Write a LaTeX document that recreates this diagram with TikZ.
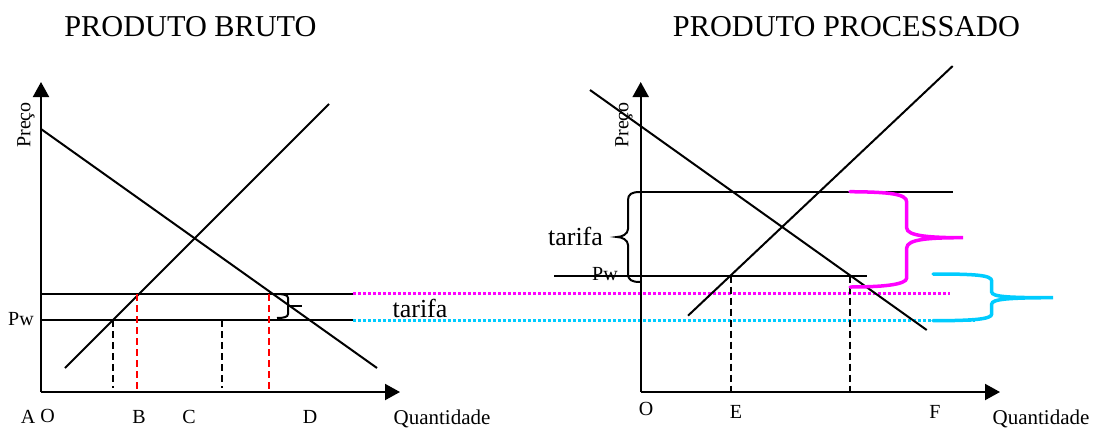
\documentclass[tikz,border=0pt]{standalone}
\usepackage{fontspec}
\setmainfont{Liberation Serif}
\usetikzlibrary{arrows.meta}
\definecolor{skyblue}{RGB}{0,204,255}
\definecolor{fuchsia}{RGB}{255,0,255}
\definecolor{dashred}{RGB}{255,0,0}

\begin{document}
\begin{tikzpicture}[x=1pt, y=-1pt, line width=2pt,
    axis/.style={-{Triangle[length=15pt 0,width=16pt 0]}},
    guide/.style={line width=2.4pt, dash pattern=on 7pt off 4pt},
    pdot/.style={line width=3pt, dash pattern=on 2.5pt off 2.5pt},
    curly/.style={line width=3.5pt, line cap=round},
    lbl/.style={inner sep=0pt, font=\fontsize{20}{24}\selectfont},
    title/.style={inner sep=0pt, font=\fontsize{30.3}{36}\selectfont}]
    \useasboundingbox (0,0) rectangle (1094,429);

    % titles
    \node[title] (tbruto) at (190.5,27) {PRODUTO BRUTO};
    \node[title] (tproc) at (846.5,27) {PRODUTO PROCESSADO};

    % dotted world prices running across both panels
    \draw[pdot, color=fuchsia] (353,293.5) -- (950,293.5);
    \draw[pdot, color=skyblue] (353,320) -- (975,320);

    % produto bruto
    \draw[axis] (41,392) -- (41,82);
    \draw[axis] (41,392) -- (400,392);
    \draw (41,129) -- (377,368);
    \draw (65,368) -- (329,104);
    \draw (41,294) -- (353,294);
    \draw (41,320) -- (353,320);
    \draw[guide] (112.7,320) -- (112.7,388);
    \draw[guide] (222,320) -- (222,388);
    \draw[guide, color=dashred] (136.7,294) -- (136.7,390);
    \draw[guide, color=dashred] (268.7,294) -- (268.7,390);
    \draw (276,294) .. controls (284,294) and (288,295) .. (288,298) -- (288,314)
          .. controls (288,317) and (284,318) .. (277,318);
    \draw (288,305.7) -- (302,305.7);
    \node[lbl, font=\fontsize{26}{30}\selectfont] (tarifaA) at (420,308) {tarifa};
    \node[lbl, rotate=90] (precoA) at (26,125) {Preço};
    \node[lbl] (pwA) at (21,319) {Pw};
    \node[lbl] (labA) at (28,416.5) {A};
    \node[lbl] (labO) at (47.5,416) {O};
    \node[lbl] (labB) at (139,417) {B};
    \node[lbl] (labC) at (189,417) {C};
    \node[lbl] (labD) at (310,417) {D};
    \node[lbl, font=\fontsize{21}{24}\selectfont] (quantA) at (442,419) {Quantidade};

    % produto processado
    \draw[axis] (640.7,392) -- (640.7,82);
    \draw[axis] (640.7,392) -- (1000,392);
    \draw (590,90) -- (926.7,330);
    \draw (688,315.7) -- (952.7,66);
    \draw (640.7,192) -- (952.7,192);
    \draw (554,275.7) -- (866.7,275.7);
    \draw[guide] (730.7,275.7) -- (730.7,392);
    \draw[guide] (850,275.7) -- (850,392);
    \draw (640,192) .. controls (632,192) and (628,194) .. (628,200) -- (628,229)
          .. controls (628,234) and (622,237) .. (617,237)
          .. controls (622,237) and (628,240) .. (628,245) -- (628,274)
          .. controls (628,280) and (632,282) .. (640,282);
    \draw[curly, color=fuchsia] (850,191.7) .. controls (890,192) and (906.7,194) .. (906.7,202)
          -- (906.7,228) .. controls (906.7,236) and (930,237.7) .. (963,237.7)
          .. controls (930,237.7) and (906.7,239) .. (906.7,248) -- (906.7,278)
          .. controls (906.7,285) and (880,287) .. (850,287);
    \draw[curly, color=skyblue] (933,274) .. controls (975,274) and (991.7,275) .. (991.7,281)
          -- (991.7,292) .. controls (991.7,297) and (1010,297.7) .. (1053,297.7)
          .. controls (1010,297.7) and (991.7,299) .. (991.7,304) -- (991.7,314)
          .. controls (991.7,319) and (975,320.7) .. (933,320.7);
    \node[lbl, font=\fontsize{26}{30}\selectfont] (tarifaB) at (575.5,236) {tarifa};
    \node[lbl, rotate=90] (precoB) at (624,125) {Preço};
    \node[lbl] (pwB) at (605,274) {Pw};
    \node[lbl] (labO2) at (646,409) {O};
    \node[lbl] (labE) at (736,412) {E};
    \node[lbl] (labF) at (935,412) {F};
    \node[lbl, font=\fontsize{21}{24}\selectfont] (quantB) at (1041,419) {Quantidade};
\end{tikzpicture}
\end{document}
